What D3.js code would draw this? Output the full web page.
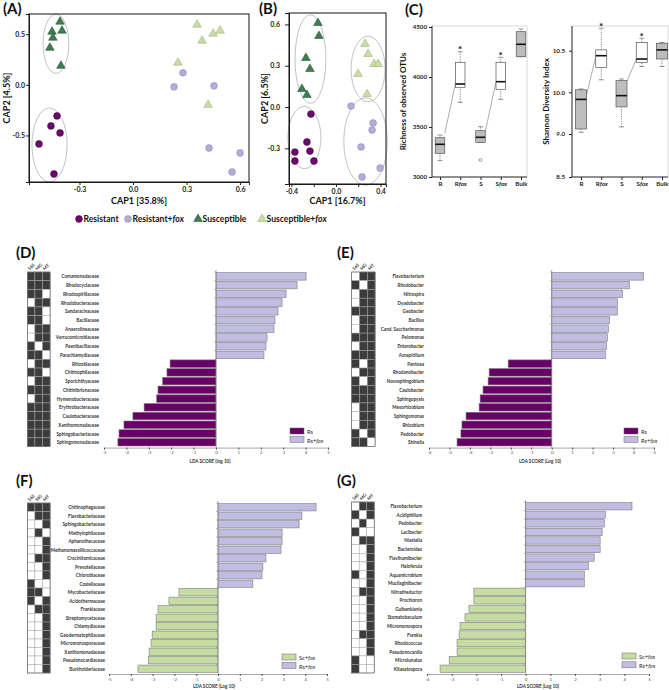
<!DOCTYPE html>
<html><head><meta charset="utf-8">
<script src="https://cdn.jsdelivr.net/npm/d3@7"></script>
<style>body{margin:0;background:#fff} svg{display:block}</style>
</head><body><svg id="c" width="669" height="690"></svg>
<script>
// ---------------- DATA ----------------
// Panel A (CAP1 / CAP2)
const aResistant      = [[-0.426,-0.307],[-0.46,-0.406],[-0.409,-0.475],[-0.527,-0.584],[-0.443,-0.881]];
const aResistantFox   = [[0.280,0.119],[0.230,-0.020],[0.454,-0.010],[0.426,-0.624],[0.555,-0.861],[0.600,-0.673]];
const aSusceptible    = [[-0.409,0.624],[-0.454,0.525],[-0.398,0.535],[-0.449,0.465],[-0.466,0.366],[-0.404,0.188]];
const aSusceptibleFox = [[0.359,0.594],[0.387,0.436],[0.449,0.505],[0.488,0.535],[0.252,0.218],[0.421,-0.198]];
const aXTicks = [-0.3,0,0.3,0.6], aYTicks = [-0.5,0,0.5];
// Panel B
const bResistant      = [[-0.225,-0.051],[-0.261,-0.254],[-0.369,-0.327],[-0.234,-0.320],[-0.369,-0.392],[-0.198,-0.392]];
const bResistantFox   = [[0.135,0.007],[0.333,-0.116],[0.324,-0.167],[0.225,-0.290],[0.234,-0.508],[0.396,-0.443]];
const bSusceptible    = [[-0.162,0.610],[-0.153,0.516],[-0.270,0.356],[-0.234,0.276],[-0.306,0.131],[-0.261,0.087]];
const bSusceptibleFox = [[0.261,0.458],[0.288,0.385],[0.342,0.312],[0.378,0.312],[0.198,0.240],[0.279,0.094]];
const bXTicks = [-0.4,-0.2,0,0.2,0.4], bXLabels=[-0.4,0,0.4], bYTicks = [-0.3,0,0.3,0.6];
const legendGroups = ["Resistant","Resistant+fox","Susceptible","Susceptible+fox"];

// Panel C
const boxCats = ["R","Rfox","S","Sfox","Bulk"];
const boxFilled = [true,false,true,false,true];
const boxSig = [false,true,false,true,false];
const richMin = [3163,3747,3347,3777,4203];
const richQ1  = [3237,3897,3347,3877,4203];
const richMed = [3327,3930,3397,3953,4327];
const richQ3  = [3393,4147,3463,4147,4453];
const richMax = [3420,4253,3503,4197,4480];
const richOut = [[2,3170]];
const richLinks = [[0,3437,1,3937],[2,3453,3,3953]];
const richTicks = [3000,3500,4000,4500];
const shanMin = [9.04,10.15,9.17,10.31,10.31];
const shanQ1  = [9.12,10.30,9.65,10.36,10.40];
const shanMed = [9.83,10.44,9.92,10.40,10.51];
const shanQ3  = [10.03,10.51,10.14,10.60,10.59];
const shanMax = [10.04,10.77,10.16,10.65,10.60];
const shanLinks = [[0,9.93,1,10.43],[2,10.13,3,10.40]];
const shanTicks = [8.5,9.0,10.0,10.5];

// LDA panels
const heatCols = ["16S","MG","MT"];
const dTaxa = ["Comamonadaceae","Rhodocyclaceae","Rhodospirillaceae","Rhodobacteraceae","Sandaracinaceae","Bacillaceae","Anaerolineaceae","Verrucomicrobiaceae","Paenibacillaceae","Parachlamydiaceae","Rhizobiaceae","Chitinophilaceae","Sporichthyaceae","Chitinibrionaceae","Hymenobacteraceae","Erythrobacteraceae","Caulobacteraceae","Xanthomonadaceae","Sphingobacteriaceae","Sphingomonadaceae"];
const dLDA = [4.02,3.62,3.13,2.95,2.77,2.63,2.59,2.28,2.23,2.14,-2.05,-2.19,-2.38,-2.59,-2.65,-3.21,-3.71,-4.11,-4.33,-4.38];
const dHeat = [[1,1,1],[1,1,1],[1,1,0],[0,1,1],[1,1,0],[1,1,0],[0,1,1],[0,1,1],[1,0,1],[1,1,0],[0,1,1],[1,1,0],[0,1,1],[1,1,1],[0,1,1],[1,1,1],[1,1,1],[1,1,1],[1,1,1],[1,1,1]];
const eTaxa = ["Flavobacterium","Rhodobacter","Nitrospira","Dyadobacter","Geobacter","Bacillus","Cand. Saccharimonas","Pelomonas","Enterobacter","Azospirillum","Pantoea","Rhodanobacter","Novosphingobium","Caulobacter","Sphingopyxis","Mesorhizobium","Sphingomonas","Rhizobium","Pedobacter","Shinella"];
const eLDA = [4.49,3.80,3.46,3.21,3.21,2.82,2.77,2.72,2.67,2.62,-2.13,-3.06,-3.11,-3.36,-3.50,-3.55,-4.19,-4.39,-4.44,-4.63];
const eHeat = [[0,1,1],[1,0,1],[0,1,1],[0,1,1],[1,1,1],[0,1,1],[0,1,1],[1,1,1],[0,1,1],[1,1,1],[1,0,1],[0,1,1],[1,0,1],[1,1,1],[1,1,1],[0,1,1],[0,1,1],[0,1,1],[1,0,1],[1,1,0]];
const fTaxa = ["Chitinophagaceae","Flavobacteriaceae","Sphingobacteriaceae","Methylophilaceae","Aphanothecaceae","Methanomassiliicoccaceae","Crocinitomicaceae","Prevotellaceae","Chlorobiaceae","Coxiellaceae","Mycobacteriaceae","Acidothermaceae","Frankiaceae","Streptomycetaceae","Chlamydiaceae","Geodermatophilaceae","Micromonosporaceae","Xanthomonadaceae","Pseudonocardiaceae","Burkholderiaceae"];
const fLDA = [4.50,3.85,3.72,2.94,2.94,2.89,2.20,2.06,2.02,1.60,-1.79,-2.25,-2.75,-2.84,-2.84,-3.02,-3.07,-3.16,-3.20,-3.67];
const fHeat = [[1,1,1],[0,1,1],[0,0,1],[0,1,0],[0,0,1],[0,0,1],[0,1,1],[0,0,1],[0,0,1],[1,0,0],[1,1,0],[1,0,1],[0,1,1],[0,0,1],[0,0,1],[0,0,1],[0,0,1],[0,0,1],[0,0,1],[0,0,1]];
const gTaxa = ["Flavobacterium","Acidiphilium","Pedobacter","Lacibacter","Niastella","Bacteroides","Flavihumibacter","Haloferula","Aquamicrobium","Mucilaginibacter","Nitratireductor","Prochloron","Gulbenkiania","Stomatobaculum","Micromonospora","Frankia","Rhodococcus","Pseudonocardia","Microlunatus","Kitasatospora"];
const gLDA = [4.31,3.23,3.19,3.10,3.02,3.02,2.78,2.54,2.38,2.38,-2.10,-2.10,-2.30,-2.46,-2.66,-2.70,-2.78,-2.78,-3.10,-3.47];
const gHeat = [[0,1,1],[1,0,1],[0,1,0],[1,0,0],[0,1,1],[0,0,1],[0,0,1],[0,0,1],[1,0,1],[0,0,1],[0,1,1],[0,0,1],[0,0,1],[0,0,1],[0,0,1],[0,1,1],[0,0,1],[0,0,1],[1,0,0],[1,0,0]];

// ---------------- STYLE ----------------
const FONT = "Lato, 'Open Sans', sans-serif";
const C = {res:"#6a0a6a", resS:"#4a004a", resFox:"#b7acd8", resFoxS:"#958bbd",
           sus:"#3f7d50", susS:"#2b5a38", susFox:"#c9dda5", susFoxS:"#9fb37c",
           barPos:"#c1bde2", barRs:"#660066", barSc:"#c6dda1"};
const svg = d3.select("#c").attr("font-family", FONT);
const fmt1 = d => d.toFixed(1);

function styleAxis(sel, fs, bold, col){
  col = col || "#222";
  sel.selectAll("text").attr("font-size",fs).attr("font-weight",bold?700:400).attr("font-family",FONT).attr("fill",col);
  sel.selectAll("line").attr("stroke",col);
  sel.select(".domain").attr("stroke",col);
}
function addFoxText(t, label){
  t.text(null);
  if (label.endsWith("fox")) {
    t.append("tspan").text(label.slice(0,-3));
    t.append("tspan").attr("font-style","italic").text("fox");
  } else t.text(label);
}

// Panel letters
[["(A)",3,14],["(B)",259,14],["(C)",405,15],["(D)",16,258],["(E)",337,258],["(F)",16,486],["(G)",337,486]]
 .forEach(l => svg.append("text").attr("x",l[1]).attr("y",l[2]).attr("font-size",15).attr("font-weight",700).attr("fill","#111").text(l[0]));

// ---------------- SCATTER ----------------
function scatter(c){
  const g = svg.append("g");
  const x = d3.scaleLinear().domain(c.xDom).range([c.left,c.right]);
  const y = d3.scaleLinear().domain(c.yDom).range([c.bottom,c.top]);
  c.ellipses.forEach(pts => {
    const xs = pts.map(p=>x(p[0])), ys = pts.map(p=>y(p[1]));
    const [xa,xb] = d3.extent(xs), [ya,yb] = d3.extent(ys);
    g.append("ellipse").attr("cx",(xa+xb)/2).attr("cy",(ya+yb)/2)
      .attr("rx",(xb-xa)/2*1.05+6.5).attr("ry",(yb-ya)/2*1.05+6.5)
      .attr("fill","none").attr("stroke","#a8a8a8").attr("stroke-width",0.7);
  });
  const ax = g.append("g").attr("transform",`translate(0,${c.bottom})`)
    .call(d3.axisBottom(x).tickValues(c.xTicks).tickSize(3).tickPadding(2).tickFormat(d => c.xLabels.includes(d) ? fmt1(d) : ""));
  styleAxis(ax,7,true);
  const ay = g.append("g").attr("transform",`translate(${c.left},0)`)
    .call(d3.axisLeft(y).tickValues(c.yTicks).tickSize(c.yTickSize).tickPadding(c.yPad).tickFormat(fmt1));
  styleAxis(ay,7,true);
  g.append("rect").attr("x",c.left).attr("y",c.top).attr("width",c.right-c.left).attr("height",c.bottom-c.top)
    .attr("fill","none").attr("stroke","#111").attr("stroke-width",1);
  c.series.forEach(s => s.pts.forEach(p => {
    if (s.shape === "circle")
      g.append("circle").attr("cx",x(p[0])).attr("cy",y(p[1])).attr("r",3.4).attr("fill",s.fill).attr("stroke",s.stroke).attr("stroke-width",0.6);
    else
      g.append("path").attr("d",d3.symbol(d3.symbolTriangle,32)()).attr("transform",`translate(${x(p[0])},${y(p[1])})`)
        .attr("fill",s.fill).attr("stroke",s.stroke).attr("stroke-width",0.6);
  }));
  g.append("text").attr("x",(c.left+c.right)/2).attr("y",c.xTitleY).attr("text-anchor","middle").attr("dominant-baseline","central")
    .attr("font-size",9).attr("font-weight",700).attr("fill","#111").text(c.xTitle);
  g.append("text").attr("transform",`translate(${c.yTitleX},${(c.top+c.bottom)/2}) rotate(-90)`).attr("text-anchor","middle").attr("dominant-baseline","central")
    .attr("font-size",9).attr("font-weight",700).attr("fill","#111").text(c.yTitle);
}

const sA = (r,rf,s,sf) => [
  {pts:r, shape:"circle", fill:C.res, stroke:C.resS},
  {pts:rf, shape:"circle", fill:C.resFox, stroke:C.resFoxS},
  {pts:s, shape:"tri", fill:C.sus, stroke:C.susS},
  {pts:sf, shape:"tri", fill:C.susFox, stroke:C.susFoxS}];

scatter({left:29,right:249,top:14,bottom:182,xDom:[-0.583,0.65],yDom:[-0.96,0.70],
  xTicks:aXTicks,xLabels:aXTicks,yTicks:aYTicks,yTickSize:3,yPad:1,
  ellipses:[aSusceptible,aResistant],series:sA(aResistant,aResistantFox,aSusceptible,aSusceptibleFox),
  xTitle:"CAP1 [35.8%]",xTitleY:200,yTitle:"CAP2 [4.5%]",yTitleX:6});
scatter({left:289,right:386,top:13,bottom:184,xDom:[-0.422,0.449],yDom:[-0.559,0.683],
  xTicks:bXTicks,xLabels:bXLabels,yTicks:bYTicks,yTickSize:4,yPad:5,
  ellipses:[bSusceptible,bResistant,bSusceptibleFox,bResistantFox],series:sA(bResistant,bResistantFox,bSusceptible,bSusceptibleFox),
  xTitle:"CAP1 [16.7%]",xTitleY:200,yTitle:"CAP2 [6.5%]",yTitleX:264});

// Legend for A/B
(function(){
  const xs = [79,128,198,262];
  const sty = [[ "circle",C.res,C.resS],["circle",C.resFox,C.resFoxS],["tri",C.sus,C.susS],["tri",C.susFox,C.susFoxS]];
  const yL = 219;
  legendGroups.forEach((lab,i) => {
    const [sh,f,s] = sty[i];
    if (sh==="circle") svg.append("circle").attr("cx",xs[i]).attr("cy",yL).attr("r",3.4).attr("fill",f).attr("stroke",s).attr("stroke-width",0.6);
    else svg.append("path").attr("d",d3.symbol(d3.symbolTriangle,32)()).attr("transform",`translate(${xs[i]},${yL})`).attr("fill",f).attr("stroke",s).attr("stroke-width",0.6);
    const t = svg.append("text").attr("x",xs[i]+4.5).attr("y",yL).attr("dominant-baseline","central").attr("font-size",8.6).attr("font-weight",700).attr("fill","#111");
    addFoxText(t, lab);
  });
})();

// ---------------- BOXPLOTS ----------------
function boxplot(c){
  const g = svg.append("g");
  const x = d3.scalePoint().domain(boxCats).range(c.cx);
  const y = c.y;
  const bw = c.bw;
  g.append("line").attr("x1",c.left).attr("x2",c.right).attr("y1",c.top).attr("y2",c.top).attr("stroke","#cfcfcf").attr("stroke-width",0.8);
  g.append("line").attr("x1",c.right).attr("x2",c.right).attr("y1",c.top).attr("y2",c.bottom).attr("stroke","#cfcfcf").attr("stroke-width",0.8);
  const ay = g.append("g").attr("transform",`translate(${c.left},0)`)
    .call(d3.axisLeft(y).tickValues(c.ticks).tickSize(3).tickPadding(c.pad).tickFormat(c.fmt));
  ay.select(".domain").remove();
  styleAxis(ay,6.2,true);
  const axb = g.append("g").attr("transform",`translate(0,${c.bottom})`)
    .call(d3.axisBottom(x).tickSize(3).tickPadding(2));
  axb.select(".domain").remove();
  styleAxis(axb,6.2,true);
  axb.selectAll("text").each(function(d){ addFoxText(d3.select(this), d); });
  g.append("line").attr("x1",c.left).attr("x2",c.left).attr("y1",c.top).attr("y2",c.bottom).attr("stroke","#222").attr("stroke-width",1);
  g.append("line").attr("x1",c.left).attr("x2",c.right).attr("y1",c.bottom).attr("y2",c.bottom).attr("stroke","#222").attr("stroke-width",1);
  // links
  c.links.forEach(l => g.append("line")
    .attr("x1",x(boxCats[l[0]])+bw/2).attr("y1",y(l[1])).attr("x2",x(boxCats[l[2]])-bw/2).attr("y2",y(l[3]))
    .attr("stroke","#8a8a8a").attr("stroke-width",0.7));
  boxCats.forEach((cat,i) => {
    const cx = x(cat);
    const wl = (a,b) => g.append("line").attr("x1",cx).attr("x2",cx).attr("y1",y(a)).attr("y2",y(b))
      .attr("stroke","#555").attr("stroke-width",0.7).attr("stroke-dasharray","1.2,1.2");
    if (c.max[i] > c.q3[i]) wl(c.q3[i], c.max[i]);
    if (c.min[i] < c.q1[i]) wl(c.min[i], c.q1[i]);
    [c.min[i], c.max[i]].forEach(v => g.append("line").attr("x1",cx-2.5).attr("x2",cx+2.5).attr("y1",y(v)).attr("y2",y(v)).attr("stroke","#666").attr("stroke-width",0.7));
    g.append("rect").attr("x",cx-bw/2).attr("y",y(c.q3[i])).attr("width",bw).attr("height",y(c.q1[i])-y(c.q3[i]))
      .attr("fill",boxFilled[i]?"#bdbdbd":"#fff").attr("stroke","#555").attr("stroke-width",0.7);
    g.append("line").attr("x1",cx-bw/2).attr("x2",cx+bw/2).attr("y1",y(c.med[i])).attr("y2",y(c.med[i])).attr("stroke","#111").attr("stroke-width",1.6);
    if (boxSig[i]) g.append("text").attr("x",cx).attr("y",y(c.max[i])+1.5).attr("text-anchor","middle")
      .attr("font-size",10).attr("font-weight",700).attr("fill","#111").text("*");
  });
  c.out.forEach(o => g.append("circle").attr("cx",x(boxCats[o[0]])).attr("cy",y(o[1])).attr("r",1.5).attr("fill","#fff").attr("stroke","#666").attr("stroke-width",0.6));
  g.append("text").attr("transform",`translate(${c.titleX},${(c.top+c.bottom)/2}) rotate(-90)`).attr("text-anchor","middle").attr("dominant-baseline","central")
    .attr("font-size",8).attr("font-weight",700).attr("fill","#111").text(c.title);
}
boxplot({left:432,right:527,top:26,bottom:177,cx:[440,521],bw:9.5,pad:2,
  y:d3.scaleLinear().domain([3000,4500]).range([177,27]),ticks:richTicks,fmt:d3.format("d"),
  min:richMin,q1:richQ1,med:richMed,q3:richQ3,max:richMax,out:richOut,links:richLinks,
  title:"Richness of observed OTUs",titleX:403});
boxplot({left:572,right:668,top:26,bottom:177,cx:[581,662],bw:11,pad:4,
  y:d3.scaleLinear().domain([8.5,9.0,10.0,10.5]).range([177,134,92.3,50.7]),ticks:shanTicks,fmt:fmt1,
  min:shanMin,q1:shanQ1,med:shanMed,q3:shanQ3,max:shanMax,out:[],links:shanLinks,
  title:"Shannon Diversity Index",titleX:546});

// ---------------- LDA PANELS ----------------
function lda(c){
  const g = svg.append("g");
  const n = c.taxa.length;
  const rows = d3.scaleBand().domain(d3.range(n)).range([c.top, c.top + n*c.rowH]);
  const cols = d3.scaleBand().domain(heatCols).range([c.hx, c.hx + heatCols.length*c.cw]);
  const x = d3.scaleLinear().domain(c.dom).range(c.xr);
  const bottom = c.top + n*c.rowH;
  c.heat.forEach((r,i) => r.forEach((v,j) => {
    g.append("rect").attr("x",cols(heatCols[j])).attr("y",rows(i)).attr("width",cols.bandwidth()).attr("height",rows.bandwidth())
      .attr("fill",v?"#3c3c3c":"#fff").attr("stroke","#a5a5a5").attr("stroke-width",0.5);
  }));
  g.append("rect").attr("x",c.hx).attr("y",c.top).attr("width",heatCols.length*c.cw).attr("height",n*c.rowH)
    .attr("fill","none").attr("stroke","#555").attr("stroke-width",0.6);
  heatCols.forEach(h => g.append("text").attr("transform",`translate(${cols(h)+cols.bandwidth()/2-1.5},${c.top-1.5}) rotate(-45)`)
    .attr("font-size",4.4).attr("font-weight",700).attr("fill","#333").text(h));
  c.taxa.forEach((t,i) => g.append("text").attr("x",c.labelX).attr("y",rows(i)+rows.bandwidth()/2)
    .attr("text-anchor","end").attr("dominant-baseline","central").attr("font-size",4.6).attr("font-weight",700).attr("fill","#333").text(t));
  c.values.forEach((v,i) => g.append("rect").attr("x",x(Math.min(0,v))).attr("y",rows(i)+0.6)
    .attr("width",Math.abs(x(v)-x(0))).attr("height",rows.bandwidth()-1.2)
    .attr("fill",v>=0?C.barPos:c.negColor).attr("stroke","#7c7c7c").attr("stroke-width",0.6));
  g.append("line").attr("x1",x(0)).attr("x2",x(0)).attr("y1",c.top-2).attr("y2",bottom+1).attr("stroke","#777").attr("stroke-width",0.6);
  d3.range(n).forEach(k => g.append("line").attr("x1",x(0)-2).attr("x2",x(0)).attr("y1",rows(k)).attr("y2",rows(k)).attr("stroke","#777").attr("stroke-width",0.5));
  const ax = g.append("g").attr("transform",`translate(0,${bottom+1})`)
    .call(d3.axisBottom(x).tickValues(d3.range(c.dom[0],c.dom[1]+1)).tickSize(2).tickPadding(1.5).tickFormat(d=>String(d)));
  styleAxis(ax,4.5,false,"#555");
  ax.select(".domain").attr("stroke","#aaa");
  g.append("text").attr("x",c.titleX).attr("y",c.titleY).attr("text-anchor","middle").attr("dominant-baseline","central")
    .attr("font-size",4.6).attr("font-weight",700).attr("fill","#333").text(c.title);
  c.legend.forEach((l,k) => {
    const yy = c.legY + k*c.legStep;
    g.append("rect").attr("x",c.legX).attr("y",yy-3).attr("width",14).attr("height",6).attr("fill",l[1]).attr("stroke","#666").attr("stroke-width",0.5);
    const t = g.append("text").attr("x",c.legX+17).attr("y",yy).attr("dominant-baseline","central").attr("font-size",5.6).attr("fill","#222");
    addFoxText(t, l[0]);
  });
}
lda({taxa:dTaxa,values:dLDA,heat:dHeat,hx:27.3,cw:7.6,top:272,rowH:8.73,labelX:99,xr:[104,328],dom:[-5,5],
  negColor:C.barRs,title:"LDA SCORE (log 10)",titleX:210,titleY:461,legX:290,legY:431,legStep:8.5,
  legend:[["Rs",C.barRs],["Rs+fox",C.barPos]]});
lda({taxa:eTaxa,values:eLDA,heat:eHeat,hx:351.7,cw:7.8,top:272,rowH:8.73,labelX:424,xr:[429,654],dom:[-6,5],
  negColor:C.barRs,title:"LDA SCORE (Log 10)",titleX:540,titleY:461,legX:624,legY:431,legStep:8.5,
  legend:[["Rs",C.barRs],["Rs+fox",C.barPos]]});
lda({taxa:fTaxa,values:fLDA,heat:fHeat,hx:27.3,cw:7.6,top:503,rowH:8.5,labelX:105,xr:[109,327],dom:[-5,5],
  negColor:C.barSc,title:"LDA SCORE (Log 10)",titleX:214,titleY:686,legX:282,legY:657,legStep:8.5,
  legend:[["Sc+fox",C.barSc],["Rs+fox",C.barPos]]});
lda({taxa:gTaxa,values:gLDA,heat:gHeat,hx:351.7,cw:7.5,top:502,rowH:8.55,labelX:422,xr:[427,649],dom:[-4,5],
  negColor:C.barSc,title:"LDA SCORE (Log 10)",titleX:538,titleY:686,legX:622,legY:656,legStep:8.8,
  legend:[["Sc+fox",C.barSc],["Rs+fox",C.barPos]]});
</script></body></html>
